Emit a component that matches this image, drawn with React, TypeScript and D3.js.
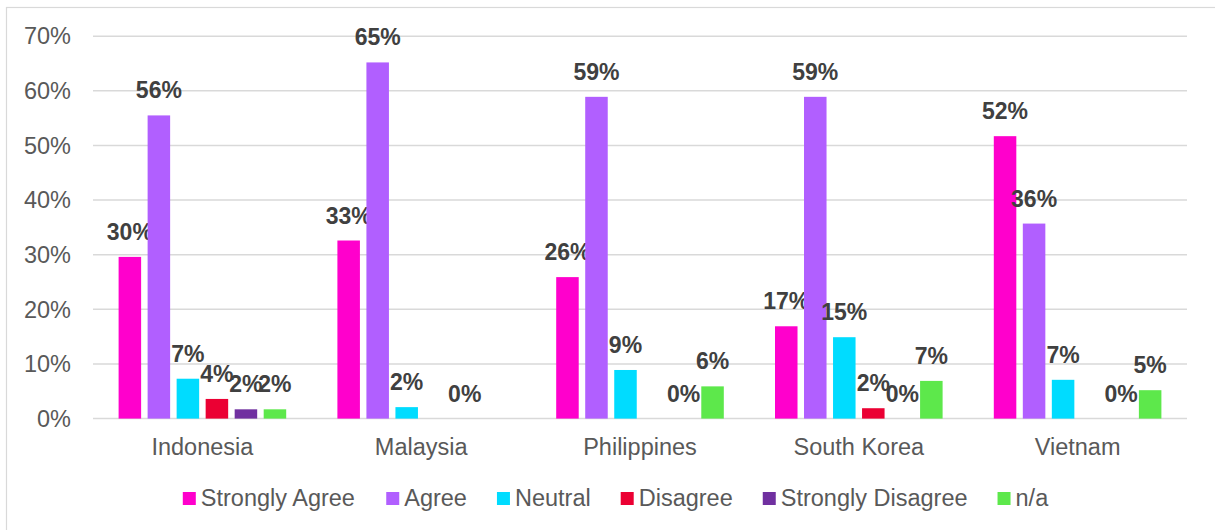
import React, { useMemo } from "react";
import * as d3 from "d3";

const countries = ["Indonesia", "Malaysia", "Philippines", "South Korea", "Vietnam"];
const seriesNames = ["Strongly Agree", "Agree", "Neutral", "Disagree", "Strongly Disagree", "n/a"];
const seriesColors = ["#FF00CC", "#B15FFF", "#00DCFF", "#EB0033", "#7030A0", "#5DE84B"];

// values in percent, null = no bar / no label
const stronglyAgree: (number | null)[] = [29.6, 32.6, 25.9, 16.9, 51.7];
const agree: (number | null)[] = [55.5, 65.2, 58.9, 58.9, 35.7];
const neutral: (number | null)[] = [7.3, 2.1, 8.9, 14.9, 7.1];
const disagree: (number | null)[] = [3.6, null, null, 1.9, null];
const stronglyDisagree: (number | null)[] = [1.7, 0, 0, 0, 0];
const notApplicable: (number | null)[] = [1.7, null, 5.9, 6.9, 5.2];

const yTicks = [0, 10, 20, 30, 40, 50, 60, 70];

const W = 1215;
const H = 530;
const FONT = "'Liberation Sans', Arial, sans-serif";

function measure(text: string, size: number): number {
  if (typeof document === "undefined") return text.length * size * 0.5;
  const c = document.createElement("canvas");
  const ctx = c.getContext("2d");
  if (!ctx) return text.length * size * 0.5;
  ctx.font = `${size}px 'Liberation Sans', Arial, sans-serif`;
  return ctx.measureText(text).width;
}

export default function App() {
  const allSeries = [stronglyAgree, agree, neutral, disagree, stronglyDisagree, notApplicable];

  const x0 = d3.scaleBand<string>().domain(countries).range([93, 1187]).padding(0);
  const bw = x0.bandwidth();
  const x1 = d3
    .scaleBand<string>()
    .domain(seriesNames)
    .range([25.6, bw - 25.6])
    .paddingInner(0.224)
    .paddingOuter(0);
  const y = d3.scaleLinear().domain([0, 70]).range([418.6, 36.2]);

  const legendSize = 23.5;
  const legend = useMemo(() => {
    const items = seriesNames.map((n) => ({ name: n, w: measure(n, legendSize) }));
    const gap = 30;
    const total = items.reduce((s, it) => s + 18 + it.w, 0) + gap * (items.length - 1);
    let x = 615.5 - total / 2;
    return items.map((it, i) => {
      const r = { name: it.name, color: seriesColors[i], mx: x, tx: x + 18 };
      x += 18 + it.w + gap;
      return r;
    });
  }, []);

  return (
    <svg
      width={W}
      height={H}
      style={{ position: "absolute", left: 0, top: 0, display: "block", background: "#fff" }}
      fontFamily={FONT}
    >
      <rect x={0} y={0} width={W} height={H} fill="#fff" />
      <rect x={6.5} y={7.5} width={W + 10} height={H + 10} fill="none" stroke="#D9D9D9" strokeWidth={1.2} />

      {yTicks.map((t) => (
        <g key={t}>
          <line x1={93} x2={1187} y1={y(t)} y2={y(t)} stroke="#D9D9D9" strokeWidth={1.5} />
          <text x={71} y={y(t)} dy="0.35em" textAnchor="end" fontSize={23.5} fill="#595959">
            {`${t}%`}
          </text>
        </g>
      ))}

      {countries.map((c, ci) => (
        <g key={c} transform={`translate(${x0(c)},0)`}>
          {allSeries.map((s, si) => {
            const v = s[ci];
            if (v === null || v === undefined) return null;
            const bx = x1(seriesNames[si]) as number;
            const w = x1.bandwidth();
            return (
              <g key={si}>
                {v > 0 && (
                  <rect
                    x={bx}
                    y={y(v)}
                    width={w}
                    height={y(0) - y(v)}
                    fill={seriesColors[si]}
                  />
                )}
                <text
                  x={bx + w / 2}
                  y={y(v) - 17}
                  textAnchor="middle"
                  fontSize={23}
                  fontWeight="bold"
                  fill="#404040"
                >
                  {`${Math.round(v)}%`}
                </text>
              </g>
            );
          })}
          <text x={bw / 2} y={455} textAnchor="middle" fontSize={23.5} fill="#595959">
            {c}
          </text>
        </g>
      ))}

      {legend.map((l) => (
        <g key={l.name}>
          <rect x={l.mx} y={492} width={13} height={13} fill={l.color} />
          <text x={l.tx} y={506} fontSize={legendSize} fill="#595959">
            {l.name}
          </text>
        </g>
      ))}
    </svg>
  );
}
